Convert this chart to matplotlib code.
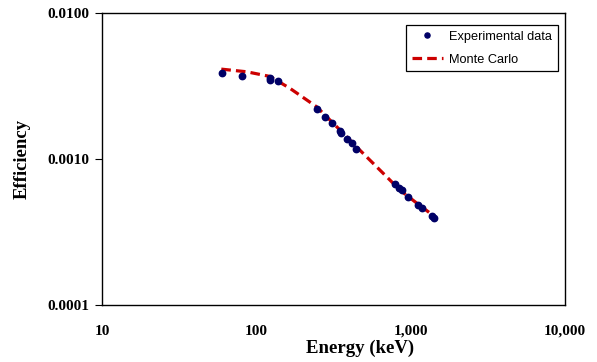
import matplotlib
matplotlib.use('Agg')
import matplotlib.pyplot as plt
from matplotlib.ticker import FixedLocator, FixedFormatter, NullLocator

# Experimental efficiency points
exp_energy = [60.0, 81.0, 122.0, 123.5, 138.0, 246.0, 280.0, 308.0, 348.0, 356.0,
              385.0, 415.0, 445.0, 788.0, 840.0, 875.0, 970.0, 1115.0, 1178.0, 1375.0, 1425.0]
exp_eff = [0.00388, 0.00368, 0.00357, 0.00348, 0.00342, 0.00220, 0.00195, 0.00178,
           0.00156, 0.00151, 0.00138, 0.00128, 0.00117, 0.000678, 0.000633, 0.000614,
           0.000552, 0.000484, 0.000464, 0.000409, 0.000393]

# Monte Carlo curve
mc_energy = [59.3, 86.7, 122.7, 165.3, 246.2, 364.6, 469.9, 700.0, 853.0, 1096.0, 1439.0]
mc_eff = [0.00413, 0.00396, 0.00368, 0.00305, 0.00228, 0.00151, 0.00115,
          0.000757, 0.000614, 0.000500, 0.000403]

x_ticks = [10, 100, 1000, 10000]
x_labels = ['10', '100', '1,000', '10,000']
y_ticks = [0.0001, 0.001, 0.01]
y_labels = ['0.0001', '0.0010', '0.0100']

fig = plt.figure(figsize=(5.97, 3.62), dpi=100)
ax = fig.add_axes([0.171, 0.157, 0.775, 0.807])

ax.plot(mc_energy, mc_eff, color='#cc0000', linestyle=(0, (3, 1.6)), linewidth=2.3,
        label='Monte Carlo', zorder=2)
ax.plot(exp_energy, exp_eff, linestyle='none', marker='o', markersize=4.6,
        color='#000066', label='Experimental data', zorder=3)

ax.set_xscale('log')
ax.set_yscale('log')
ax.set_xlim(10, 10000)
ax.set_ylim(0.0001, 0.01)

ax.xaxis.set_major_locator(FixedLocator(x_ticks))
ax.xaxis.set_major_formatter(FixedFormatter(x_labels))
ax.yaxis.set_major_locator(FixedLocator(y_ticks))
ax.yaxis.set_major_formatter(FixedFormatter(y_labels))
ax.xaxis.set_minor_locator(NullLocator())
ax.yaxis.set_minor_locator(NullLocator())
ax.tick_params(axis='x', length=0, pad=14)
ax.tick_params(axis='y', length=5, direction='out', pad=4)
for lab in ax.get_xticklabels() + ax.get_yticklabels():
    lab.set_fontfamily('Liberation Serif')
    lab.set_fontweight('bold')
    lab.set_fontsize(11)

for sp in ax.spines.values():
    sp.set_linewidth(1.0)
    sp.set_color('black')

ax.set_xlabel('Energy (keV)', fontfamily='Liberation Serif', fontweight='bold',
              fontsize=13.5, va='center')
ax.xaxis.set_label_coords(0.557, -0.147)
ax.set_ylabel('Efficiency', fontfamily='Liberation Serif', fontweight='bold',
              fontsize=13.5, va='center')
ax.yaxis.set_label_coords(-0.172, 0.5)

handles, labels = ax.get_legend_handles_labels()
leg = ax.legend(handles[::-1], labels[::-1], loc='upper right',
                bbox_to_anchor=(0.990, 0.968), fancybox=False, framealpha=1,
                edgecolor='black', prop=dict(family='Liberation Sans', size=9.2),
                handlelength=2.4, borderpad=0.45, labelspacing=0.85, handletextpad=0.5,
                borderaxespad=0.2, markerscale=0.8)
leg.get_frame().set_linewidth(0.9)

fig.savefig('out.png', dpi=100)
